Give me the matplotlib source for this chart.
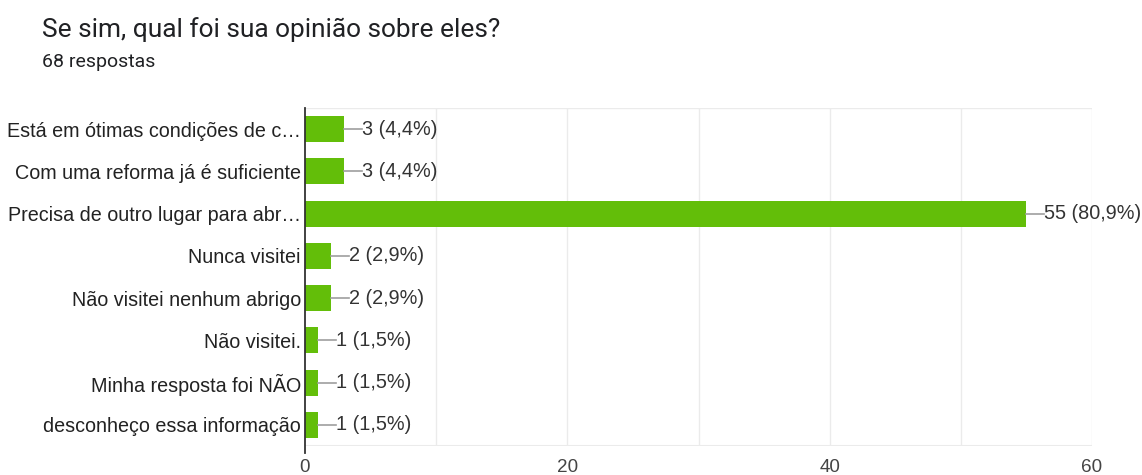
import matplotlib.pyplot as plt

# dados
categorias = [
    "Está em ótimas condições de c…",
    "Com uma reforma já é suficiente",
    "Precisa de outro lugar para abr…",
    "Nunca visitei",
    "Não visitei nenhum abrigo",
    "Não visitei.",
    "Minha resposta foi NÃO",
    "desconheço essa informação",
]
valores = [3, 3, 55, 2, 2, 1, 1, 1]
percentuais = ["4,4%", "4,4%", "80,9%", "2,9%", "2,9%", "1,5%", "1,5%", "1,5%"]
titulo = "Se sim, qual foi sua opinião sobre eles?"
subtitulo = "68 respostas"
xticks = [0, 20, 40, 60]

verde = "#63be09"

fig = plt.figure(figsize=(11.42, 4.75), dpi=100)
ax = fig.add_axes([305 / 1142, 1 - 446 / 475, 787 / 1142, 338 / 475])

y = list(range(len(categorias)))
ax.barh(y, valores, height=0.62, color=verde, zorder=3)
ax.set_ylim(len(categorias) - 0.5, -0.5)
ax.set_xlim(0, 60)

# grade
for v in range(10, 61, 10):
    ax.axvline(v, color="#ebebeb", lw=1, zorder=1)
ax.axhline(-0.5, color="#ebebeb", lw=1, zorder=1)
ax.axhline(len(categorias) - 0.5, color="#ebebeb", lw=1.5, zorder=1)

for s in ax.spines.values():
    s.set_visible(False)
ax.axvline(0, color="#333333", lw=1.3, zorder=4, ymin=-0.02, clip_on=False)

ax.set_yticks(y)
ax.set_yticklabels(categorias, fontsize=14.2, color="#222222", family="Liberation Sans")
ax.set_xticks(xticks)
ax.set_xticklabels([str(t) for t in xticks], fontsize=13.6, color="#444444", family="Liberation Sans")
ax.tick_params(axis="both", length=0)
ax.tick_params(axis="y", pad=3)
ax.tick_params(axis="x", pad=9)

# rotulos de valor com linha guia
passo = 60 / 787
for yi, v, p in zip(y, valores, percentuais):
    ax.plot([v, v + 18 * passo], [yi, yi], color="#9e9e9e", lw=1.2, zorder=3, clip_on=False)
    ax.text(v + 18 * passo, yi, f"{v} ({p})", va="center", ha="left", fontsize=14.3,
            color="#333333", family="Liberation Sans", clip_on=False)

fig.text(42 / 1142, 1 - 30 / 475, titulo, fontsize=18.9, color="#202124",
         family="Roboto", va="center", ha="left")
fig.text(42 / 1142, 1 - 62 / 475, subtitulo, fontsize=14, color="#202124",
         family="Roboto", va="center", ha="left")

fig.savefig("out.png", dpi=100)
